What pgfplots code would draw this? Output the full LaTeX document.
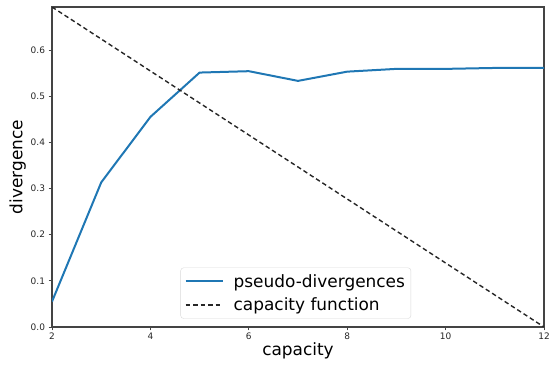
\documentclass[border=0pt]{standalone}
\usepackage{pgfplots}
\pgfplotsset{compat=1.18}
\usepackage{fontspec}
\setmainfont{DejaVu Sans}
\definecolor{mplblue}{HTML}{1F77B4}
\definecolor{spine}{HTML}{444444}
\begin{document}
\begin{tikzpicture}
\useasboundingbox (-52bp,-39bp) rectangle (500bp,327bp);
\begin{axis}[
  at={(0,0)}, anchor=south west,
  scale only axis,
  width=492bp, height=320bp,
  xmin=2, xmax=12, ymin=0, ymax=0.693,
  xtick={2,4,...,12},
  ytick={0,0.1,...,0.6},
  yticklabel style={/pgf/number format/.cd,fixed,fixed zerofill,precision=1},
  /pgf/number format/assume math mode=true,
  tick label style={font=\fontsize{9}{10}\selectfont, text=black!85},
  tick align=outside,
  major tick length=3.5bp,
  tick style={spine, line width=0.8bp},
  axis line style={spine, line width=1.1bp},
  xtick pos=bottom, ytick pos=left,
  xticklabel style={yshift=1bp},
  xlabel={capacity}, ylabel={divergence},
  label style={font=\fontsize{17}{19}\selectfont},
  xlabel style={yshift=4bp},
  ylabel style={yshift=-2bp},
  legend style={at={(0.4955,0.026)}, anchor=south, draw=black!15, rounded corners=3bp,
    font=\fontsize{17}{19}\selectfont, row sep=5bp, inner xsep=4bp, inner ysep=4.5bp,
    cells={anchor=west}},
  legend cell align=left,
  legend image code/.code={\draw[#1] (0bp,0bp) -- (37bp,0bp); \path (45bp,0bp);},
]
\addplot[mplblue, line width=2bp] coordinates {
  (2,0.055) (3,0.313) (4,0.455) (5,0.551) (6,0.554) (7,0.533)
  (8,0.553) (9,0.559) (10,0.559) (11,0.561) (12,0.561)
};
\addlegendentry{pseudo-divergences}
\addplot[black!85, line width=1.4bp, dash pattern=on 4.5bp off 3bp] coordinates {
  (2,0.693) (12,0)
};
\addlegendentry{capacity function}
\end{axis}
\end{tikzpicture}
\end{document}
